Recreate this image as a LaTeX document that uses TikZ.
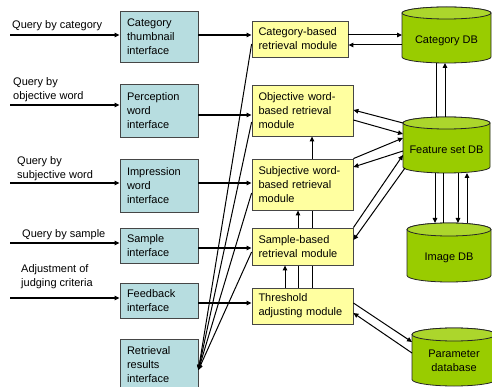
\documentclass[tikz,border=0pt]{standalone}
\usepackage{fontspec}
\setmainfont{Liberation Sans}
\usetikzlibrary{arrows.meta}
\pgfdeclarelayer{bg}
\pgfsetlayers{bg,main}
\definecolor{ifc}{RGB}{183,221,224}
\definecolor{modc}{RGB}{255,255,160}
\definecolor{dbc}{RGB}{153,204,0}
\definecolor{dbtop}{RGB}{172,214,44}
\definecolor{boxline}{RGB}{70,70,70}
\tikzset{
  txt/.style={font=\fontsize{11}{14}\selectfont},
  iface/.style={txt, draw=boxline, line width=0.8pt, fill=ifc, align=left, text width=64pt, inner xsep=7pt, inner ysep=0pt},
  module/.style={txt, draw=boxline, line width=0.8pt, fill=modc, align=left, text width=88pt, inner xsep=6.5pt, inner ysep=0pt},
  dbnode/.style={rectangle, inner sep=0pt, outer sep=0pt},
  dbtext/.style={txt, align=center, inner sep=0pt},
  inlabel/.style={txt, align=left, anchor=west, inner sep=0pt},
  arr/.style={line width=1pt, -{Triangle[length=5pt,width=4.5pt]}},
  ln/.style={line width=1pt},
  inarr/.style={line width=1.2pt, -{Triangle[length=5pt,width=4.5pt]}},
  dbbody/.style={draw=black!85, line width=0.8pt, fill=dbc},
  dbcap/.style={draw=black!85, line width=0.8pt, fill=dbtop},
}
\newcommand\dbcyl[3]{%
  \path[dbbody] ([yshift=-#3]#1.north west) -- ([yshift=#3]#1.south west)
    arc[start angle=180, end angle=360, x radius=#2, y radius=#3]
    -- ([yshift=-#3]#1.north east)
    arc[start angle=0, end angle=180, x radius=#2, y radius=#3] -- cycle;
  \path[dbcap] ([yshift=-#3]#1.north) ellipse[x radius=#2, y radius=#3];
}
\begin{document}
\begin{tikzpicture}[x=1pt,y=1pt]
\useasboundingbox (0,0) rectangle (492,-387);

% interfaces
\node[iface, minimum height=51pt] (if1) at (159,-36.5) {Category\\thumbnail\\interface};
\node[iface, minimum height=53pt] (if2) at (159,-110.5) {Perception\\word\\interface};
\node[iface, minimum height=53pt] (if3) at (159,-185.5) {Impression\\word\\interface};
\node[iface, minimum height=35pt] (if4) at (159,-245.5) {Sample\\interface};
\node[iface, minimum height=35pt] (if5) at (159,-300.5) {Feedback\\interface};
\node[iface, minimum height=52pt] (if6) at (159,-365) {Retrieval\\results\\interface};

% modules
\node[module, text width=83pt, minimum height=36pt] (m1) at (300,-39) {Category-based\\retrieval module};
\node[module, minimum height=51pt] (m2) at (302.5,-110.5) {Objective word-\\based retrieval\\module};
\node[module, minimum height=51pt] (m3) at (302.5,-184.5) {Subjective word-\\based retrieval\\module};
\node[module, minimum height=37pt] (m4) at (302.5,-246.5) {Sample-based\\retrieval module};
\node[module, minimum height=36pt] (m5) at (302.5,-306) {Threshold\\adjusting module};

% databases
\node[dbnode, minimum width=89pt, minimum height=56pt] (catdb) at (446.5,-35) {};
\node[dbnode, minimum width=87pt, minimum height=56pt] (featdb) at (446.5,-145) {};
\node[dbnode, minimum width=84pt, minimum height=59pt] (imgdb) at (449,-252.5) {};
\node[dbnode, minimum width=84pt, minimum height=58pt] (pardb) at (454,-357) {};
\dbcyl{catdb}{44.5pt}{6pt}
\dbcyl{featdb}{43.5pt}{6pt}
\dbcyl{imgdb}{42pt}{6.5pt}
\dbcyl{pardb}{42pt}{6.5pt}
\node[dbtext] (catdbt) at ([yshift=-6pt]catdb.center) {Category DB};
\node[dbtext] (featdbt) at ([yshift=-5pt]featdb.center) {Feature set DB};
\node[dbtext] (imgdbt) at ([yshift=-5.5pt]imgdb.center) {Image DB};
\node[dbtext] (pardbt) at ([yshift=-3.5pt]pardb.center) {Parameter\\database};

% input labels and arrows
\node[inlabel] (lab1) at (12,-26) {Query by category};
\node[inlabel] (lab2) at (13,-89.5) {Query by\\objective word};
\node[inlabel] (lab3) at (17,-168.5) {Query by\\subjective word};
\node[inlabel] (lab4) at (22,-235) {Query by sample};
\node[inlabel] (lab5) at (21,-276.5) {Adjustment of\\judging criteria};
\coordinate (in1) at (10,-35);
\coordinate (in2) at (10,-105);
\coordinate (in3) at (10,-183);
\coordinate (in4) at (10,-243);
\coordinate (in5) at (10,-298);
\draw[inarr] (in1) -- (in1 -| if1.west);
\draw[inarr] (in2) -- (in2 -| if2.west);
\draw[inarr] (in3) -- (in3 -| if3.west);
\draw[inarr] (in4) -- (in4 -| if4.west);
\draw[inarr] (in5) -- (in5 -| if5.west);

% interfaces to modules
\draw[inarr] ([yshift=1.5pt]if1.east) -- ([yshift=1.5pt]if1.east -| m1.west);
\draw[inarr] ([yshift=-4.5pt]if2.east) -- ([yshift=-4.5pt]if2.east -| m2.west);
\draw[inarr] ([yshift=2.5pt]if3.east) -- ([yshift=2.5pt]if3.east -| m3.west);
\draw[inarr] ([yshift=-2.5pt]if4.east) -- ([yshift=-2.5pt]if4.east -| m4.west);
\draw[inarr] ([yshift=-2.5pt]if5.east) -- ([yshift=-2.5pt]if5.east -| m5.west);

% modules to retrieval results interface
\draw[arr] ([yshift=-5pt]m1.west) -- ([yshift=-5pt]if6.east);
\draw[arr] ([yshift=-11.5pt]m2.west) -- ([yshift=-5pt]if6.east);
\draw[arr] ([yshift=-8.5pt]m3.west) -- ([yshift=-5pt]if6.east);
\draw[arr] ([yshift=-5.5pt]m4.west) -- ([yshift=-5pt]if6.east);

% threshold module upwards
\draw[arr] ([xshift=-17.5pt]m5.north) -- ([xshift=-17.5pt]m4.south);
\begin{pgfonlayer}{bg}
\draw[arr] ([xshift=-4.5pt]m5.north) -- ([xshift=-4.5pt]m3.south);
\draw[arr] ([xshift=9.5pt]m5.north) -- ([xshift=9.5pt]m2.south);
\end{pgfonlayer}

% category module <-> category DB
\draw[arr] ([yshift=4pt]m1.east) -- ([yshift=4pt]m1.east -| catdb.west);
\draw[arr] ([yshift=-10pt]catdb.west) -- ([yshift=-10pt]catdb.west -| m1.east);

% category DB <-> feature DB
\draw[ln] ([xshift=-10.5pt]catdb.south) -- ([xshift=-10.5pt]catdb.south |- featdb.north);
\draw[arr] ([xshift=-1.5pt]featdb.north) -- ([xshift=-1.5pt]featdb.north |- catdb.south);

% feature DB <-> image DB
\draw[arr] ([xshift=-11.5pt]featdb.south) -- ([xshift=-11.5pt]featdb.south |- imgdb.north);
\draw[ln] ([xshift=-3.5pt]featdb.south) -- ([xshift=-3.5pt]featdb.south |- imgdb.north);
\draw[arr] ([xshift=11.5pt]featdb.south) -- ([xshift=11.5pt]featdb.south |- imgdb.north);
\draw[arr] ([xshift=20.5pt]featdb.south |- imgdb.north) -- ([xshift=20.5pt]featdb.south);

% modules <-> feature DB
\draw[arr] ([yshift=22pt]featdb.west) -- ([yshift=0.5pt]m2.east);
\draw[arr] ([yshift=-9.5pt]m2.east) -- ([yshift=11pt]featdb.west);
\draw[arr] (m3.north east) -- ([yshift=7pt]featdb.west);
\draw[arr] ([yshift=-6pt]featdb.west) -- ([yshift=17.5pt]m3.east);
\draw[arr] (m4.north east) -- ([yshift=-10pt]featdb.west);
\draw[arr] ([xshift=2pt,yshift=-23pt]featdb.west) -- ([yshift=6.5pt]m4.east);

% threshold module <-> parameter database
\draw[arr] ([yshift=3pt]m5.east) -- ([yshift=15pt]pardb.west);
\draw[arr] ([yshift=4pt]pardb.west) -- ([yshift=-7pt]m5.east);
\end{tikzpicture}
\end{document}
